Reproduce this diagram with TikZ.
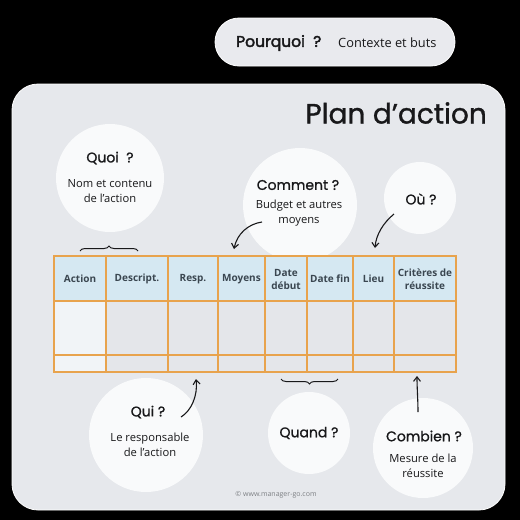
\documentclass[tikz,border=0pt]{standalone}
\usepackage{fontspec}
\setmainfont{Open Sans}
\newfontfamily\headfont{Poppins}[FakeBold=1.1]
\newfontfamily\pillfont{Poppins}[FakeBold=2.4]
\usetikzlibrary{arrows.meta,decorations.pathreplacing}
\definecolor{mgpanel}{RGB}{230,232,236}
\definecolor{mgpill}{RGB}{233,234,238}
\definecolor{mgbubble}{RGB}{249,250,251}
\definecolor{mghead}{RGB}{213,232,242}
\definecolor{mgcell}{RGB}{228,230,234}
\definecolor{mgfirst}{RGB}{241,244,247}
\definecolor{mgline}{RGB}{232,163,77}
\definecolor{mgtext}{RGB}{24,24,26}
\definecolor{mgtab}{RGB}{58,70,80}
\definecolor{mgcopy}{RGB}{125,128,132}

\begin{document}
\begin{tikzpicture}[x=1pt,y=-1pt,
  bubble/.style={circle,fill=mgbubble,inner sep=0pt,minimum size=#1},
  title/.style={font=\headfont\fontsize{14}{16}\selectfont,text=mgtext,inner sep=0pt},
  body/.style={font=\fontsize{11.2}{15.5}\selectfont,text=mgtext,align=center,inner sep=0pt},
  headtxt/.style={font=\bfseries\fontsize{10}{13}\selectfont,text=mgtab,align=center,inner sep=0pt},
  hand/.style={draw=mgtext,line width=1.1pt,-{Straight Barb[length=4.5pt,width=7pt]}},
  brc/.style={draw=mgtext,line width=1pt,decorate,decoration={brace,amplitude=5pt}}]
  % background and frames
  \fill[black] (0,0) rectangle (520,520);
  \node[fill=mgpill,draw=white,line width=0.8pt,rounded corners=24pt,
    minimum width=240pt,minimum height=48pt] (pill) at (335,42) {};
  \node[font=\pillfont\fontsize{15.5}{18}\selectfont,text=mgtext,anchor=west,inner sep=0pt]
    (pourquoi) at (236,43) {Pourquoi\ \ ?};
  \node[font=\fontsize{12.8}{14}\selectfont,text=mgtext,anchor=west,inner sep=0pt]
    (contexte) at (338,43) {Contexte et buts};
  \fill[mgpanel,draw=white,line width=0.8pt,rounded corners=26pt] (12,84) rectangle (505,510);
  \node[font=\headfont\fontsize{28}{32}\selectfont,text=mgtext,anchor=east,inner sep=0pt]
    (plan) at (487,113) {Plan d’action};

  % bubbles
  \node[bubble=108pt] (quoi) at (110,178) {};
  \node[bubble=114pt] (comment) at (300,205) {};
  \node[bubble=72pt] (ou) at (420,198) {};
  \node[bubble=114pt] (qui) at (146,435) {};
  \node[bubble=82pt] (quand) at (309,433) {};
  \node[bubble=100pt] (combien) at (423,448) {};

  \node[title] (quoit) at (110,158) {Quoi\ \ ?};
  \node[body] (quoib) at (110,191) {Nom et contenu\\de l’action};
  \node[title] (commentt) at (298,185) {Comment ?};
  \node[body] (commentb) at (299,213) {Budget et autres\\moyens};
  \node[title] (out) at (421,199) {Où ?};
  \node[title] (quit) at (148,412) {Qui ?};
  \node[body] (quib) at (150,445) {Le responsable\\de l’action};
  \node[title] (quandt) at (309,433) {Quand ?};
  \node[title] (combient) at (424,436) {Combien ?};
  \node[body] (combienb) at (423,466) {Mesure de la\\réussite};

  % table
  \foreach \xa/\xb/\lbl [count=\i] in {54/106/Action,106/168/Descript.,168/218/Resp.,
      218/265/Moyens,265/307/{Date\\début},307/353/Date fin,353/394/Lieu,
      394/456/{Critères de\\réussite}}{
    \fill[mghead] (\xa,256) rectangle (\xb,301);
    \ifnum\i=1 \fill[mgfirst] (\xa,301) rectangle (\xb,372);
    \else \fill[mgcell] (\xa,301) rectangle (\xb,372); \fi
    \draw[mgline,line width=1.2pt] (\xa,256) rectangle (\xb,301);
    \draw[mgline,line width=1.2pt] (\xa,301) rectangle (\xb,355);
    \draw[mgline,line width=1.2pt] (\xa,355) rectangle (\xb,372);
    \node[headtxt] (h\i) at ({(\xa+\xb)/2},279) {\lbl};
  }

  % braces and arrows
  \draw[brc] (80,251) -- (138,251);
  \draw[brc] (338,379) -- (281,379);
  \coordinate (cmtip) at (234,249);
  \coordinate (outip) at (375,248);
  \coordinate (quitip) at (196,379);
  \coordinate (cbtip) at (417,376);
  \draw[hand] (262,222) .. controls (248,224) and (237,234) .. (cmtip);
  \draw[hand] (394,214) .. controls (383,223) and (376,235) .. (outip);
  \draw[hand] (181,417) .. controls (191,411) and (198,396) .. (quitip);
  \draw[hand] (418,412) .. controls (418,400) and (417,388) .. (cbtip);

  \node[font=\fontsize{7}{8}\selectfont,text=mgcopy,inner sep=0pt] (copy) at (276,495) {© www.manager-go.com};
\end{tikzpicture}
\end{document}
